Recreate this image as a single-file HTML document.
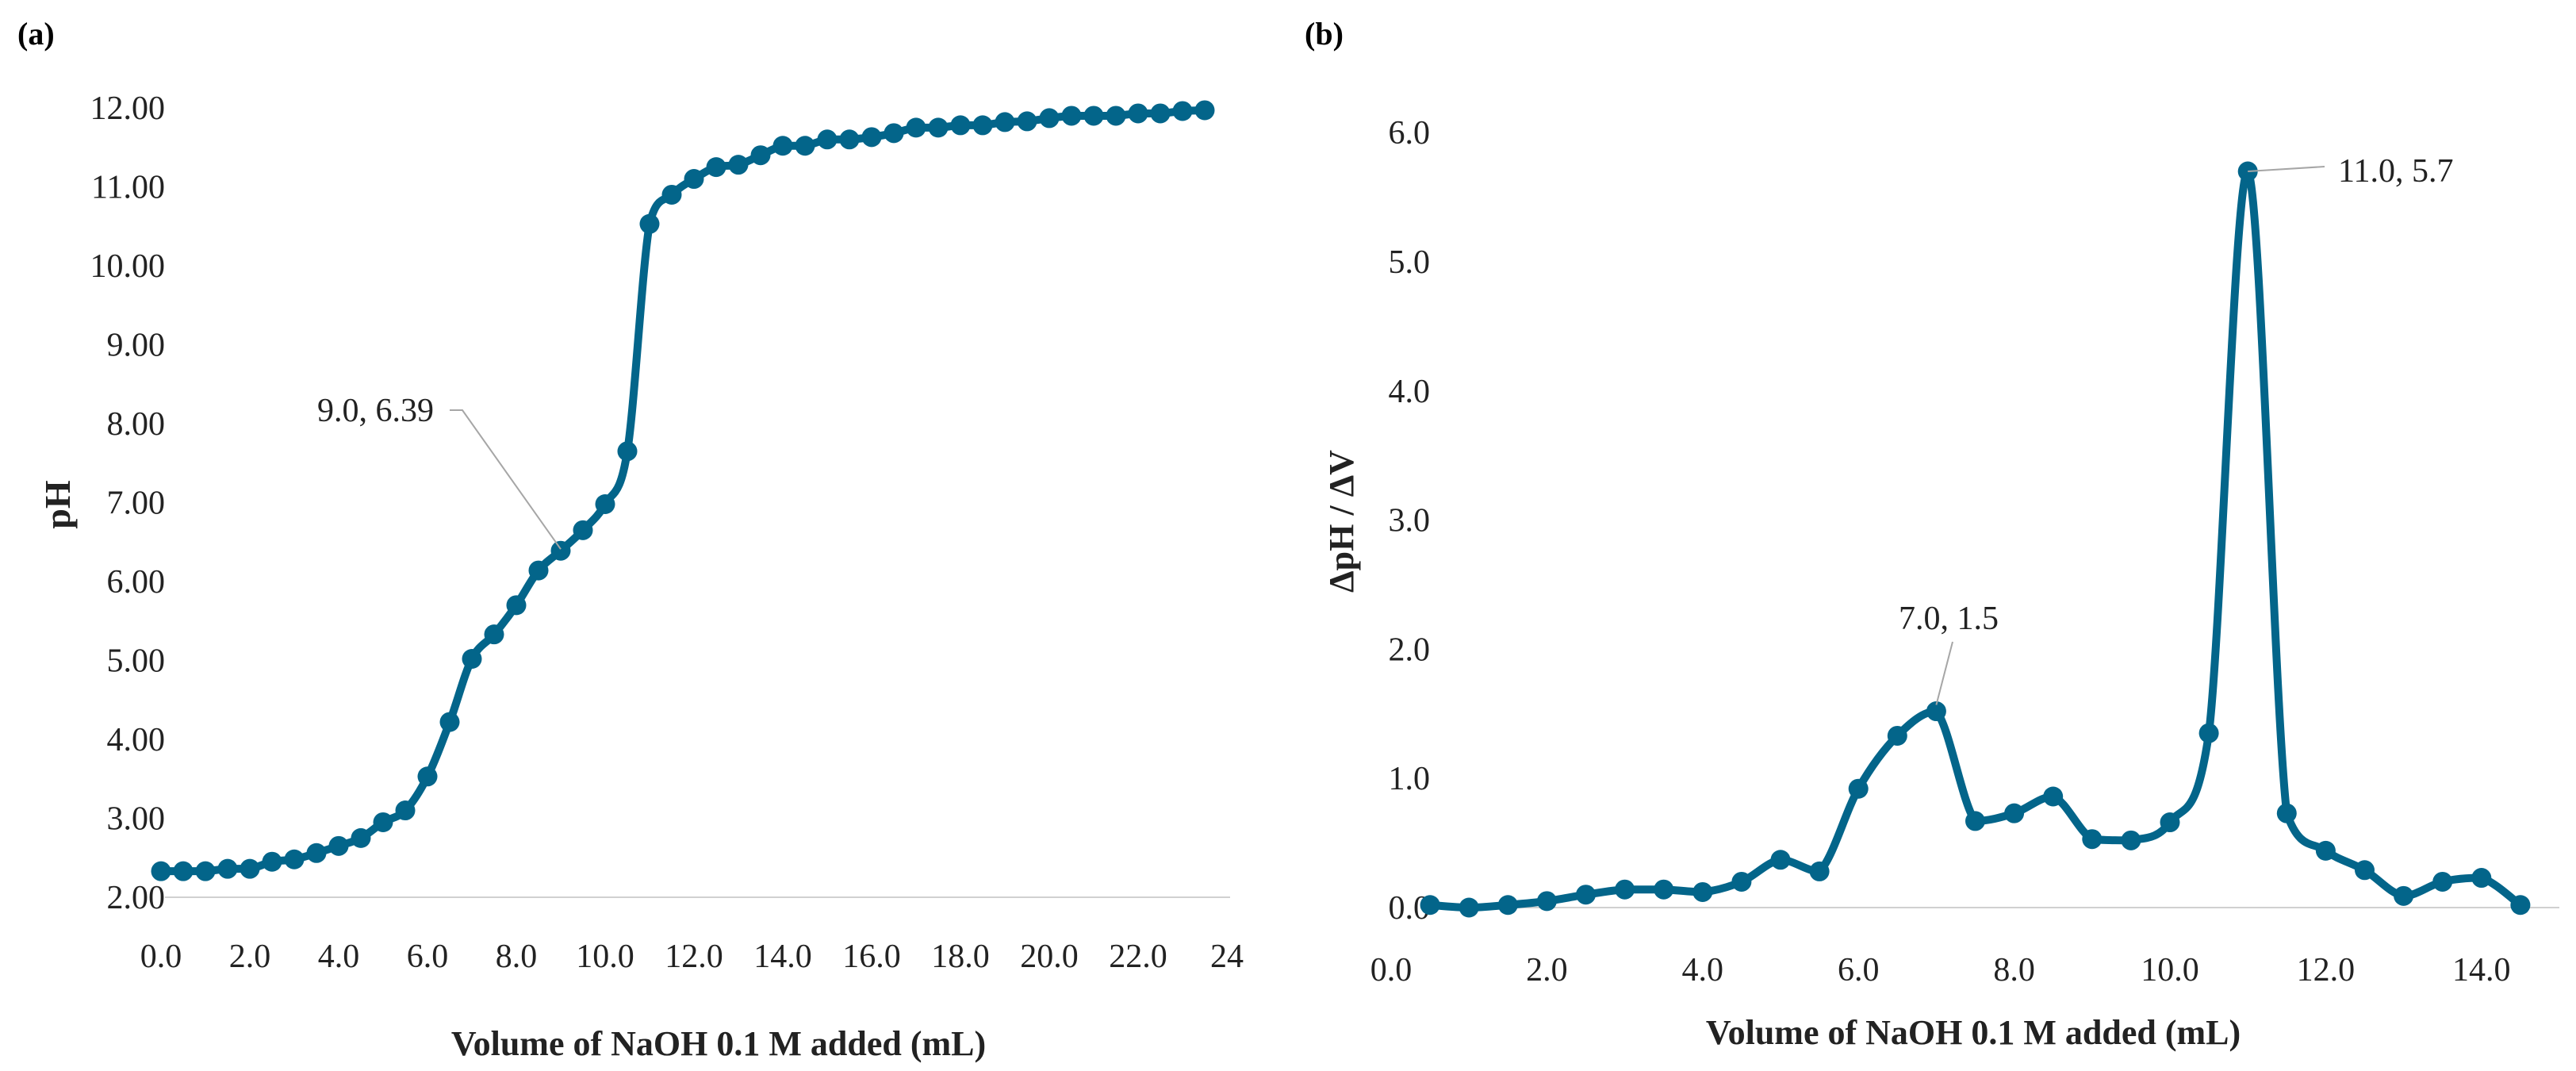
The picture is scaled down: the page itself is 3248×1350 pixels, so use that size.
<!DOCTYPE html>
<html><head><meta charset="utf-8"><style>
html,body{margin:0;padding:0;background:#fff;}
svg{display:block;font-family:"Liberation Serif",serif;}
</style></head><body>
<svg id="fig" width="3248" height="1350" viewBox="0 0 3248 1350">
<g id="chartA"></g>
<g id="chartB"></g>
</svg>
<script>
// Chart (a) data
const aVolumes = [0,0.5,1,1.5,2,2.5,3,3.5,4,4.5,5,5.5,6,6.5,7,7.5,8,8.5,9,9.5,10,10.5,11,11.5,12,12.5,13,13.5,14,14.5,15,15.5,16,16.5,17,17.5,18,18.5,19,19.5,20,20.5,21,21.5,22,22.5,23,23.5];
const aPH = [2.33,2.33,2.33,2.36,2.36,2.45,2.48,2.56,2.65,2.75,2.95,3.1,3.53,4.22,5.02,5.33,5.7,6.14,6.39,6.65,6.98,7.65,10.53,10.9,11.1,11.25,11.28,11.4,11.52,11.52,11.6,11.6,11.63,11.68,11.75,11.75,11.78,11.78,11.82,11.83,11.87,11.9,11.9,11.9,11.93,11.93,11.96,11.97];
const aYTicks = [2,3,4,5,6,7,8,9,10,11,12];
const aXTickLabels = ["0.0","2.0","4.0","6.0","8.0","10.0","12.0","14.0","16.0","18.0","20.0","22.0","24"];
const aXTickValues = [0,2,4,6,8,10,12,14,16,18,20,22,24];
// Chart (b) data
const bVolumes = [0.5,1,1.5,2,2.5,3,3.5,4,4.5,5,5.5,6,6.5,7,7.5,8,8.5,9,9.5,10,10.5,11,11.5,12,12.5,13,13.5,14,14.5];
const bDeriv = [0.02,0.0,0.02,0.05,0.1,0.14,0.14,0.12,0.2,0.37,0.28,0.92,1.33,1.52,0.67,0.73,0.86,0.53,0.52,0.66,1.35,5.7,0.73,0.44,0.29,0.09,0.2,0.23,0.02];
const bYTicks = [0,1,2,3,4,5,6];
const bXTickValues = [0,2,4,6,8,10,12,14];

const NS="http://www.w3.org/2000/svg";
const COLOR="#03658a";
function mk(parent,tag,attrs,text){const e=document.createElementNS(NS,tag);for(const k in attrs)e.setAttribute(k,attrs[k]);if(text!==undefined)e.textContent=text;parent.appendChild(e);return e;}
function clamp(v,a,b){const lo=Math.min(a,b),hi=Math.max(a,b);return Math.max(lo,Math.min(hi,v));}
function smoothPath(pts){
  let d="M"+pts[0][0]+","+pts[0][1];
  for(let i=0;i<pts.length-1;i++){
    const p0=pts[Math.max(0,i-1)],p1=pts[i],p2=pts[i+1],p3=pts[Math.min(pts.length-1,i+2)];
    const t=6;
    const c1=[p1[0]+(p2[0]-p0[0])/t,clamp(p1[1]+(p2[1]-p0[1])/t,p1[1],p2[1])];
    const c2=[p2[0]-(p3[0]-p1[0])/t,clamp(p2[1]-(p3[1]-p1[1])/t,p1[1],p2[1])];
    d+=" C"+c1[0]+","+c1[1]+" "+c2[0]+","+c2[1]+" "+p2[0]+","+p2[1];
  }
  return d;
}

// ---- Chart A ----
(function(){
const g=document.getElementById('chartA');
const xS=v=>203+v*56.0, yS=v=>1131-(v-2)*99.5;
let e;
e=mk(g,'text',{x:22,y:56,'font-size':40,'font-weight':'bold'},'(a)');


e=mk(g,'line',{x1:208,y1:yS(2),x2:1551,y2:yS(2),stroke:'#d0d0d0','stroke-width':2});


aYTicks.forEach(v=>{
  const t=mk(g,'text',{x:208,y:yS(v)+14,'font-size':42,'text-anchor':'end',fill:'#222'},v.toFixed(2));
  
  
});
aXTickValues.forEach((v,i)=>{
  const t=mk(g,'text',{x:xS(v),y:1219,'font-size':42,'text-anchor':'middle',fill:'#222'},aXTickLabels[i]);
  
  
});
e=mk(g,'text',{x:906,y:1330,'font-size':44,'font-weight':'bold','text-anchor':'middle',fill:'#222'},'Volume of NaOH 0.1 M added (mL)');


e=mk(g,'text',{x:0,y:0,'font-size':46,'font-weight':'bold','text-anchor':'middle',fill:'#222',transform:'translate(88,636) rotate(-90)'},'pH');


const pts=aVolumes.map((v,i)=>[xS(v),yS(aPH[i])]);
e=mk(g,'path',{d:smoothPath(pts),fill:'none',stroke:COLOR,'stroke-width':10,'stroke-linejoin':'round'});


pts.forEach(p=>{
  const c=mk(g,'circle',{cx:p[0],cy:p[1],r:12.5,fill:COLOR});
  
  
});
const ai=aVolumes.indexOf(9);
e=mk(g,'polyline',{points:`567,517 583,517 ${xS(9)},${yS(aPH[ai])-2}`,fill:'none',stroke:'#a6a6a6','stroke-width':2});


e=mk(g,'text',{x:547,y:531,'font-size':42,'text-anchor':'end',fill:'#222'},'9.0, '+aPH[ai].toFixed(2));


})();

// ---- Chart B ----
(function(){
const g=document.getElementById('chartB');
const xS=v=>1754+v*98.2, yS=v=>1144-v*162.8;
let e;
e=mk(g,'text',{x:1645,y:56,'font-size':40,'font-weight':'bold'},'(b)');


e=mk(g,'line',{x1:1791,y1:yS(0),x2:3227,y2:yS(0),stroke:'#d0d0d0','stroke-width':2});


bYTicks.forEach(v=>{
  const t=mk(g,'text',{x:1803,y:yS(v)+14,'font-size':42,'text-anchor':'end',fill:'#222'},v.toFixed(1));
  
  
});
bXTickValues.forEach(v=>{
  const t=mk(g,'text',{x:xS(v),y:1236,'font-size':42,'text-anchor':'middle',fill:'#222'},v.toFixed(1));
  
  
});
e=mk(g,'text',{x:2488,y:1316,'font-size':44,'font-weight':'bold','text-anchor':'middle',fill:'#222'},'Volume of NaOH 0.1 M added (mL)');


e=mk(g,'text',{x:0,y:0,'font-size':44,'font-weight':'bold','text-anchor':'middle',fill:'#222',transform:'translate(1706,657) rotate(-90)'},'ΔpH / ΔV');


const pts=bVolumes.map((v,i)=>[xS(v),yS(bDeriv[i])]);
e=mk(g,'path',{d:smoothPath(pts),fill:'none',stroke:COLOR,'stroke-width':10,'stroke-linejoin':'round'});


pts.forEach(p=>{
  const c=mk(g,'circle',{cx:p[0],cy:p[1],r:12.5,fill:COLOR});
  
  
});
const i7=bVolumes.indexOf(7), i11=bVolumes.indexOf(11);
e=mk(g,'polyline',{points:`2462,809 ${xS(7)},${yS(bDeriv[i7])-8}`,fill:'none',stroke:'#a6a6a6','stroke-width':2});


e=mk(g,'text',{x:2394,y:793,'font-size':42,fill:'#222'},'7.0, '+bDeriv[i7].toFixed(1));


e=mk(g,'polyline',{points:`${xS(11)},${yS(bDeriv[i11])} 2931,210`,fill:'none',stroke:'#a6a6a6','stroke-width':2});


e=mk(g,'text',{x:2948,y:229,'font-size':42,fill:'#222'},'11.0, '+bDeriv[i11].toFixed(1));


})();
</script>
</body></html>
